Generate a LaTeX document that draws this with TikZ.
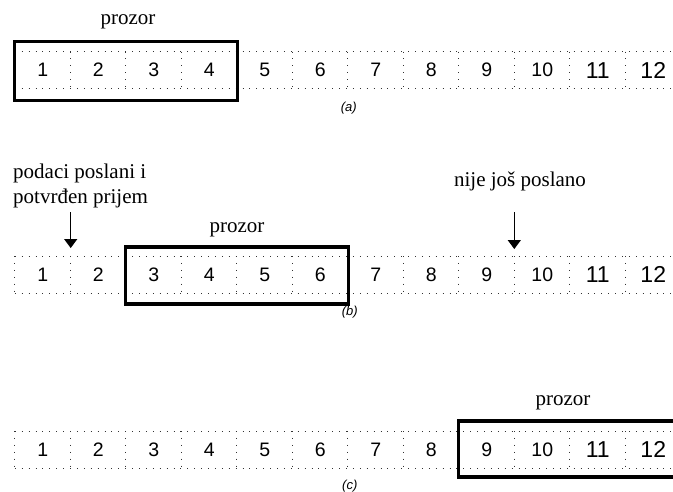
\documentclass[tikz,border=0pt]{standalone}
\usepackage{fontspec}
\setmainfont{Liberation Serif}
\newfontfamily\digitfont{Liberation Sans}
\usetikzlibrary{arrows.meta,calc}

\tikzset{
  cell/.style={inner sep=0pt, minimum width=55.5bp, minimum height=36.5bp,
    text height=14bp, text depth=0pt,
    font=\digitfont\fontsize{19.5bp}{22bp}\selectfont},
  bigcell/.style={cell, text height=16.5bp,
    font=\digitfont\fontsize{23bp}{26bp}\selectfont},
  grid/.style={black!80, line width=0.9bp, dash pattern=on 0.9bp off 6bp},
  window/.style={black, line width=3.2bp, line join=miter},
  caption/.style={inner sep=0pt, font=\fontsize{21bp}{24.5bp}\selectfont},
  tag/.style={inner sep=0pt, font=\digitfont\itshape\fontsize{13bp}{15bp}\selectfont},
  pointer/.style={black, line width=1.2bp, -{Triangle[width=13bp,length=9bp]}}
}

\begin{document}
\begin{tikzpicture}[x=1bp, y=-1bp]
  \useasboundingbox (0,0) rectangle (673,492);

  % three rows of twelve numbered cells
  \foreach \r/\yc in {a/70, b/274.5, c/449.5} {
    \foreach \i in {1,...,10}
      \node[cell] (\r\i) at ({15+55.5*(\i-0.5)}, \yc) {\i};
    \foreach \i in {11,12}
      \node[bigcell] (\r\i) at ({15+55.5*(\i-0.5)}, \yc) {\i};
  }

  \begin{scope}
    \clip (0,0) rectangle (673,492);
    % dotted cell borders
    \foreach \r in {a,b,c} {
      \draw[grid] (\r1.north west) -- (\r12.north east);
      \draw[grid] (\r1.south west) -- (\r12.south east);
      \foreach \i in {1,...,12}
        \draw[grid] (\r\i.north west) -- (\r\i.south west);
    }
    % sliding windows
    \draw[window] ($(a1.north west)+(0,-10)$) rectangle ($(a4.south east)+(0,12)$);
    \draw[window] ($(b3.north west)+(0,-9)$) rectangle ($(b6.south east)+(0,11)$);
    \draw[window] ($(c9.north west)+(0,-10)$) rectangle ($(c12.south east)+(4,9)$);
  \end{scope}

  % window labels
  \node[caption, anchor=base] (wa) at (128,25) {prozor};
  \node[caption, anchor=base] (wb) at (237,233) {prozor};
  \node[caption, anchor=base] (wc) at (563,405) {prozor};

  % row tags
  \node[tag] (ta) at ($(a7.south west)+(1,20)$) {(a)};
  \node[tag] (tb) at ($(b7.south west)+(2,19)$) {(b)};
  \node[tag] (tc) at ($(c7.south west)+(2,18)$) {(c)};

  % annotations with pointers
  \node[caption, anchor=north west, align=left] (sent) at (13,164)
    {podaci poslani i\\potvrđen prijem};
  \node[caption, anchor=base] (unsent) at (520,187) {nije još poslano};
  \draw[pointer] ($(b1.north east)+(0,-44)$) -- ($(b1.north east)+(0,-8)$);
  \draw[pointer] ($(b10.north west)+(0,-44)$) -- ($(b10.north west)+(0,-7)$);
\end{tikzpicture}
\end{document}
